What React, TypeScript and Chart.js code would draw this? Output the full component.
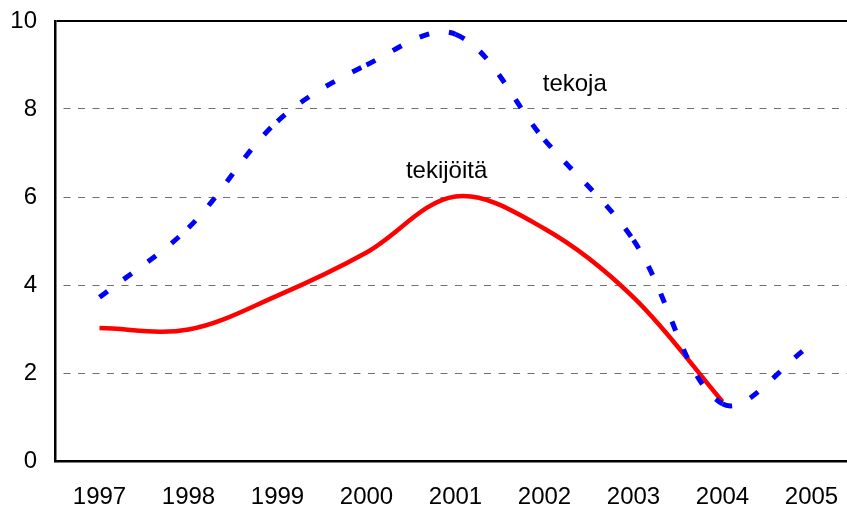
import React, { useEffect, useRef } from "react";
import { Chart, registerables } from "chart.js";

Chart.register(...registerables);

const years = ["1997", "1998", "1999", "2000", "2001", "2002", "2003", "2004", "2005"];
const tekoja = [3.72, 5.3, 7.72, 9.0, 9.7, 7.3, 5.02, 1.3, 2.65];
const tekijoita = [3.02, 2.99, 3.76, 4.74, 6.01, 5.28, 3.72, 1.35, null];

const yTicks = [0, 2, 4, 6, 8, 10];
const noteTexts = ["tekoja", "tekijöitä"];
const noteX = [5.34, 3.9];
const noteY = [8.42, 6.44];

const FONT = '"Liberation Sans", Arial, sans-serif';

const notesPlugin = {
  id: "notes",
  afterDatasetsDraw(chart: any) {
    const { ctx, scales } = chart;
    ctx.save();
    ctx.font = `24px ${FONT}`;
    ctx.fillStyle = "#000";
    ctx.textAlign = "center";
    ctx.textBaseline = "alphabetic";
    noteTexts.forEach((t, i) => {
      ctx.fillText(t, scales.x.getPixelForValue(noteX[i]), scales.y.getPixelForValue(noteY[i]));
    });
    ctx.restore();
  },
};

export default function App() {
  const ref = useRef<HTMLCanvasElement>(null);
  useEffect(() => {
    const chart = new Chart(ref.current!, {
      type: "line",
      data: {
        labels: years,
        datasets: [
          {
            label: "tekoja",
            data: tekoja,
            borderColor: "#0000FF",
            borderWidth: 5,
            borderDash: [10, 20],
            pointRadius: 0,
            tension: 0.35,
            fill: false,
            segment: {
              borderDashOffset: (c: any) => (c.p0DataIndex % 2 === 0 ? 0 : 0.001),
            },
          },
          {
            label: "tekijöitä",
            data: tekijoita,
            borderColor: "#FF0000",
            borderWidth: 4.5,
            pointRadius: 0,
            tension: 0.35,
            fill: false,
          },
        ],
      },
      options: {
        animation: false,
        responsive: false,
        maintainAspectRatio: false,
        layout: { padding: { top: 21, right: 14, left: 0, bottom: 0 } },
        plugins: { legend: { display: false }, tooltip: { enabled: false } },
        scales: {
          x: {
            offset: true,
            grid: { display: false, drawTicks: false },
            border: { display: true, color: "#000", width: 2.5 },
            ticks: {
              color: "#000",
              font: { family: FONT, size: 24 },
              padding: 22,
              maxRotation: 0,
              autoSkip: false,
            },
            afterFit: (s: any) => {
              s.height = 46;
              s.paddingLeft = 0;
              s.paddingRight = 0;
            },
          },
          y: {
            min: 0,
            max: 10,
            afterBuildTicks: (s: any) => {
              s.ticks = yTicks.map((v) => ({ value: v }));
            },
            grid: {
              drawTicks: false,
              color: (c: any) =>
                c.tick && c.tick.value === 10 ? "#000" : c.tick && c.tick.value === 0 ? "rgba(0,0,0,0)" : "#707070",
              lineWidth: (c: any) => (c.tick && c.tick.value === 10 ? 2 : 1),
            },
            border: {
              display: true,
              color: "#000",
              width: 2.5,
              dash: (c: any) => (c.tick && c.tick.value > 0 && c.tick.value < 10 ? [7, 7.5] : []),
              dashOffset: 7.5,
            },
            ticks: {
              color: "#000",
              font: { family: FONT, size: 24 },
              padding: 18,
            },
            afterFit: (s: any) => {
              s.width = 55;
              s.paddingTop = 0;
              s.paddingBottom = 0;
            },
          },
        },
      },
      plugins: [notesPlugin],
    });
    return () => chart.destroy();
  }, []);
  return (
    <div style={{ position: "fixed", left: 0, top: 0, width: 847, height: 507, overflow: "hidden", background: "#fff" }}>
      <div style={{ width: 870, height: 507 }}>
        <canvas ref={ref} width={870} height={507} style={{ display: "block", width: 870, height: 507 }} />
      </div>
    </div>
  );
}
